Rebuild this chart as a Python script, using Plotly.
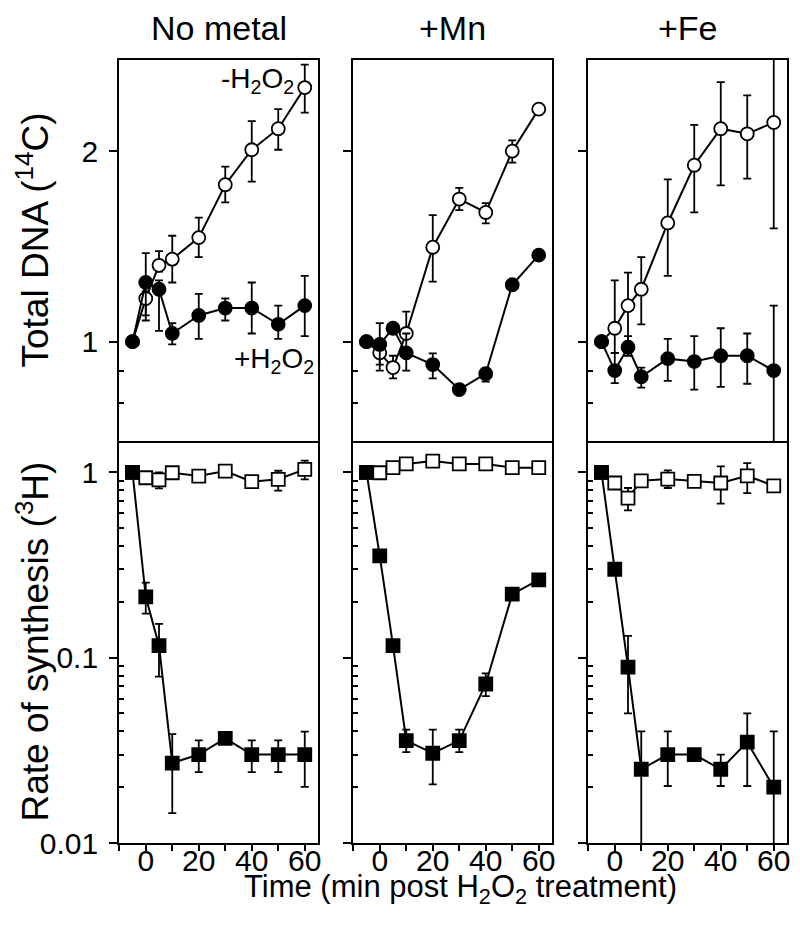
import plotly.graph_objects as go

# the page adds an 8px body margin, so the figure is drawn at (8, 8)
OX, OY = 8, 8
W, H = 792, 935

time = [-5, 0, 5, 10, 20, 30, 40, 50, 60]

# ---- Total DNA (14C) : -H2O2 (open circles) / +H2O2 (filled circles) ----
nm_dna_minus = [1.00, 1.17, 1.32, 1.35, 1.46, 1.77, 2.01, 2.17, 2.52]
nm_dna_minus_hi = [1.00, 1.20, 1.39, 1.47, 1.57, 1.89, 2.23, 2.33, 2.74]
nm_dna_minus_lo = [1.00, 1.10, 1.29, 1.24, 1.36, 1.66, 1.79, 2.01, 2.30]
nm_dna_plus = [1.00, 1.24, 1.21, 1.03, 1.10, 1.13, 1.13, 1.065, 1.14]
nm_dna_plus_hi = [1.00, 1.38, 1.25, 1.07, 1.19, 1.17, 1.24, 1.14, 1.27]
nm_dna_plus_lo = [1.00, 1.08, 1.04, 0.99, 1.01, 1.08, 1.03, 1.01, 1.02]

mn_dna_minus = [1.00, 0.96, 0.91, 1.03, 1.41, 1.68, 1.60, 2.00, 2.33]
mn_dna_minus_hi = [1.00, 0.97, 0.95, 1.115, 1.585, 1.75, 1.655, 2.08, 2.33]
mn_dna_minus_lo = [1.00, 0.92, 0.875, 1.03, 1.244, 1.614, 1.538, 1.918, 2.33]
mn_dna_plus = [1.00, 0.99, 1.05, 0.96, 0.92, 0.84, 0.89, 1.23, 1.37]
mn_dna_plus_hi = [1.00, 1.07, 1.05, 1.03, 0.958, 0.84, 0.908, 1.23, 1.37]
mn_dna_plus_lo = [1.00, 0.90, 1.05, 0.90, 0.875, 0.84, 0.865, 1.23, 1.37]

fe_dna_minus = [1.00, 1.05, 1.14, 1.21, 1.54, 1.90, 2.17, 2.13, 2.22]
fe_dna_minus_hi = [1.00, 1.25, 1.285, 1.36, 1.805, 2.20, 2.57, 2.45, 2.94]
fe_dna_minus_lo = [1.00, 0.96, 1.00, 1.065, 1.27, 1.60, 1.765, 1.81, 1.51]
fe_dna_plus = [1.00, 0.90, 0.98, 0.88, 0.94, 0.93, 0.95, 0.95, 0.90]
fe_dna_plus_hi = [1.00, 0.96, 1.02, 0.91, 1.01, 1.02, 1.05, 1.03, 1.14]
fe_dna_plus_lo = [1.00, 0.86, 0.95, 0.846, 0.867, 0.84, 0.848, 0.858, 0.50]

# ---- Rate of synthesis (3H): -H2O2 (open squares) / +H2O2 (filled squares) ----
nm_rate_minus = [1.0, 0.935, 0.91, 0.995, 0.955, 1.016, 0.89, 0.917, 1.038]
nm_rate_minus_hi = [1.0, 0.935, 1.0, 0.995, 0.955, 1.016, 0.89, 1.02, 1.155]
nm_rate_minus_lo = [1.0, 0.935, 0.82, 0.995, 0.955, 1.016, 0.89, 0.796, 0.917]
nm_rate_plus = [1.0, 0.213, 0.116, 0.027, 0.030, 0.0367, 0.030, 0.030, 0.030]
nm_rate_plus_hi = [1.0, 0.254, 0.152, 0.0387, 0.0358, 0.0367, 0.0358, 0.0358, 0.0399]
nm_rate_plus_lo = [1.0, 0.173, 0.079, 0.0145, 0.0241, 0.0367, 0.0241, 0.0241, 0.0201]

mn_rate_minus = [1.0, 0.995, 1.06, 1.11, 1.15, 1.11, 1.11, 1.06, 1.06]
mn_rate_minus_hi = [1.0, 0.995, 1.06, 1.11, 1.15, 1.11, 1.11, 1.06, 1.06]
mn_rate_minus_lo = [1.0, 0.995, 1.06, 1.11, 1.15, 1.11, 1.11, 1.06, 1.06]
mn_rate_plus = [1.0, 0.354, 0.116, 0.0357, 0.0305, 0.0357, 0.0721, 0.22, 0.263]
mn_rate_plus_hi = [1.0, 0.354, 0.116, 0.0409, 0.0409, 0.0409, 0.0822, 0.22, 0.263]
mn_rate_plus_lo = [1.0, 0.354, 0.116, 0.0309, 0.0207, 0.0309, 0.062, 0.22, 0.263]

fe_rate_minus = [1.0, 0.876, 0.726, 0.90, 0.92, 0.894, 0.876, 0.958, 0.846]
fe_rate_minus_hi = [1.0, 0.876, 0.823, 0.90, 1.025, 0.894, 1.078, 1.12, 0.846]
fe_rate_minus_lo = [1.0, 0.876, 0.623, 0.90, 0.823, 0.894, 0.677, 0.773, 0.846]
fe_rate_plus = [1.0, 0.30, 0.089, 0.025, 0.030, 0.030, 0.025, 0.035, 0.020]
fe_rate_plus_hi = [1.0, 0.30, 0.131, 0.040, 0.040, 0.030, 0.030, 0.050, 0.040]
fe_rate_plus_lo = [1.0, 0.30, 0.050, 0.008, 0.0203, 0.030, 0.0203, 0.0203, 0.008]

panel_titles = ["No metal", "+Mn", "+Fe"]
x_tickvals = [0, 20, 40, 60]
x_minor = [-10, 10, 30, 50]
dna_tickvals = [1, 2]
dna_minor = [0.8, 0.9]
rate_tickvals = [0.01, 0.1, 1]
rate_ticktext = ["0.01", "0.1", "1"]
rate_minor = [m * d for d in (0.01, 0.1) for m in range(2, 10)]

FONT = "Liberation Sans, Arial, Helvetica, sans-serif"

top_data = [
    (nm_dna_minus, nm_dna_minus_hi, nm_dna_minus_lo, nm_dna_plus, nm_dna_plus_hi, nm_dna_plus_lo),
    (mn_dna_minus, mn_dna_minus_hi, mn_dna_minus_lo, mn_dna_plus, mn_dna_plus_hi, mn_dna_plus_lo),
    (fe_dna_minus, fe_dna_minus_hi, fe_dna_minus_lo, fe_dna_plus, fe_dna_plus_hi, fe_dna_plus_lo),
]
bot_data = [
    (nm_rate_minus, nm_rate_minus_hi, nm_rate_minus_lo, nm_rate_plus, nm_rate_plus_hi, nm_rate_plus_lo),
    (mn_rate_minus, mn_rate_minus_hi, mn_rate_minus_lo, mn_rate_plus, mn_rate_plus_hi, mn_rate_plus_lo),
    (fe_rate_minus, fe_rate_minus_hi, fe_rate_minus_lo, fe_rate_plus, fe_rate_plus_hi, fe_rate_plus_lo),
]

# panel geometry in screen pixels
col_px = [(119, 318), (353, 552), (588, 787)]
top_px = (60, 441)
bot_px = (441, 843)


def px(x):
    return (x - OX) / W


def py(y):
    return 1 - (y - OY) / H


def xd(a, b):
    return [px(a), px(b)]


def yd(a, b):
    return [py(b), py(a)]


fig = go.Figure()


def add_series(xa, ya, y, hi, lo, symbol, filled):
    plus = [h - v for h, v in zip(hi, y)]
    minus = [v - l for v, l in zip(y, lo)]
    fig.add_trace(go.Scatter(
        x=time, y=y, xaxis=xa, yaxis=ya, mode="lines+markers",
        line=dict(color="black", width=2),
        marker=dict(symbol=symbol, size=13,
                    color="black" if filled else "white",
                    line=dict(color="black", width=1.8)),
        error_y=dict(type="data", symmetric=False, array=plus, arrayminus=minus,
                     color="black", thickness=1.8, width=4),
        showlegend=False, hoverinfo="skip",
    ))


layout_axes = {}
for c in range(3):
    it = c + 1
    ib = c + 4
    xt = "x" if it == 1 else f"x{it}"
    yt = "y" if it == 1 else f"y{it}"
    xb = f"x{ib}"
    yb = f"y{ib}"
    m, mhi, mlo, p, phi, plo = top_data[c]
    add_series(xt, yt, m, mhi, mlo, "circle", False)
    add_series(xt, yt, p, phi, plo, "circle", True)
    m, mhi, mlo, p, phi, plo = bot_data[c]
    add_series(xb, yb, m, mhi, mlo, "square", False)
    add_series(xb, yb, p, phi, plo, "square", True)

    xk_t = "xaxis" if it == 1 else f"xaxis{it}"
    yk_t = "yaxis" if it == 1 else f"yaxis{it}"
    layout_axes[xk_t] = dict(domain=xd(*col_px[c]), range=[-10.1, 65], anchor=yt, automargin=False,
                             showline=True, linecolor="black", linewidth=1.8, mirror=True,
                             ticks="", showticklabels=False, showgrid=False, zeroline=False)
    layout_axes[yk_t] = dict(domain=yd(*top_px), type="log", range=[-0.157, 0.445], anchor=xt,
                             automargin=False,
                             showline=True, linecolor="black", linewidth=1.8, mirror=True,
                             tickmode="array", tickvals=dna_tickvals, ticktext=["1", "2"],
                             ticks="outside", ticklen=8, tickwidth=1.5, tickcolor="black",
                             minor=dict(tickmode="array", tickvals=dna_minor, ticks="inside",
                                        ticklen=5, tickwidth=1.5, tickcolor="black", showgrid=False),
                             showticklabels=(c == 0), ticklabelstandoff=5,
                             tickfont=dict(family=FONT, size=30, color="black"),
                             showgrid=False, zeroline=False)
    layout_axes[f"xaxis{ib}"] = dict(domain=xd(*col_px[c]), range=[-10.1, 65], anchor=yb,
                                     automargin=False,
                                     showline=True, linecolor="black", linewidth=1.8, mirror=False,
                                     tickmode="array", tickvals=x_tickvals,
                                     ticks="outside", ticklen=6, tickwidth=1.5, tickcolor="black",
                                     minor=dict(tickmode="array", tickvals=x_minor, ticks="outside",
                                                ticklen=6, tickwidth=1.5, tickcolor="black", showgrid=False),
                                     ticklabelstandoff=-16,
                                     tickfont=dict(family=FONT, size=30, color="black"),
                                     showgrid=False, zeroline=False)
    layout_axes[f"yaxis{ib}"] = dict(domain=yd(*bot_px), type="log", range=[-2.0, 0.169], anchor=xb,
                                     automargin=False,
                                     showline=True, linecolor="black", linewidth=1.8, mirror=True,
                                     tickmode="array", tickvals=rate_tickvals, ticktext=rate_ticktext,
                                     ticks="outside", ticklen=8, tickwidth=1.5, tickcolor="black",
                                     minor=dict(tickmode="array", tickvals=rate_minor, ticks="inside",
                                                ticklen=5, tickwidth=1.5, tickcolor="black", showgrid=False),
                                     showticklabels=(c == 0), ticklabelstandoff=5,
                                     tickfont=dict(family=FONT, size=30, color="black"),
                                     showgrid=False, zeroline=False)

annotations = []
title_cx = [(a + b) / 2 for a, b in col_px]
for c in range(3):
    annotations.append(dict(text=panel_titles[c], x=px(title_cx[c]), y=1.0, xref="paper", yref="paper",
                            xanchor="center", yanchor="top", showarrow=False, borderpad=0,
                            font=dict(family=FONT, size=34, color="black")))

annotations += [
    dict(text="Total DNA (<sup>14</sup>C)", x=0.0, y=py(240), xref="paper", yref="paper",
         textangle=-90, xanchor="left", yanchor="middle", showarrow=False, borderpad=0,
         font=dict(family=FONT, size=37, color="black")),
    dict(text="Rate of synthesis (<sup>3</sup>H)", x=0.0, y=py(642), xref="paper", yref="paper",
         textangle=-90, xanchor="left", yanchor="middle", showarrow=False, borderpad=0,
         font=dict(family=FONT, size=37, color="black")),
    dict(text="Time (min post H<sub>2</sub>O<sub>2</sub> treatment)", x=px(460), y=py(889),
         xref="paper", yref="paper", xanchor="center", yanchor="middle", showarrow=False,
         font=dict(family=FONT, size=31, color="black")),
    dict(text="-H<sub>2</sub>O<sub>2</sub>", x=px(258), y=py(80), xref="paper", yref="paper",
         xanchor="center", yanchor="middle", showarrow=False,
         font=dict(family=FONT, size=28, color="black")),
    dict(text="+H<sub>2</sub>O<sub>2</sub>", x=px(274), y=py(360), xref="paper", yref="paper",
         xanchor="center", yanchor="middle", showarrow=False,
         font=dict(family=FONT, size=28, color="black")),
]

fig.update_layout(
    width=W, height=H, margin=dict(l=0, r=0, t=0, b=0),
    paper_bgcolor="white", plot_bgcolor="white",
    font=dict(family=FONT, color="black"),
    annotations=annotations,
    **layout_axes,
)

fig.write_html("out.html")
